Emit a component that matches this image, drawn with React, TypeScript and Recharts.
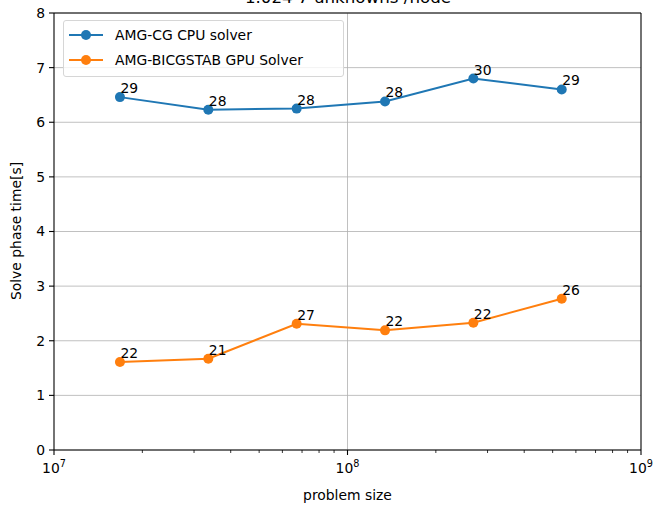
import React from 'react';
import { LineChart, Line, XAxis, YAxis, CartesianGrid, ReferenceLine, LabelList, Label } from 'recharts';

const FONT = '"DejaVu Sans", sans-serif';
const CPU_COLOR = '#1f77b4';
const GPU_COLOR = '#ff7f0e';

// problem sizes are 2^24 .. 2^29
const problemSizes = [16777216, 33554432, 67108864, 134217728, 268435456, 536870912];
const cpuTimes = [6.46, 6.23, 6.25, 6.38, 6.8, 6.6];
const gpuTimes = [1.61, 1.67, 2.31, 2.19, 2.33, 2.77];
const cpuIters = [29, 28, 28, 28, 30, 29];
const gpuIters = [22, 21, 27, 22, 22, 26];

const xTicks = [
  1e7, 2e7, 3e7, 4e7, 5e7, 6e7, 7e7, 8e7, 9e7,
  1e8, 2e8, 3e8, 4e8, 5e8, 6e8, 7e8, 8e8, 9e8,
  1e9,
];
const yTicks = [0, 1, 2, 3, 4, 5, 6, 7, 8];

const seriesNames = ['AMG-CG CPU solver', 'AMG-BICGSTAB GPU Solver'];

const data = problemSizes.map((size, i) => ({
  size,
  cpu: cpuTimes[i],
  gpu: gpuTimes[i],
  cpuIter: cpuIters[i],
  gpuIter: gpuIters[i],
}));

// log axis tick: long tick + 10^n label on decades, short tick otherwise
const LogTick = (props: any) => {
  const { x, y, payload } = props;
  const v = payload.value;
  const exp = Math.round(Math.log10(v));
  const major = Math.abs(Math.pow(10, exp) - v) < 1;
  return (
    <g>
      <line x1={x} x2={x} y1={y} y2={y + (major ? 5 : 3)} stroke="#000" strokeWidth={major ? 1.1 : 0.8} />
      {major && (
        <text x={x} y={y + 23} textAnchor="middle" fontSize={13.9} fontFamily={FONT} fill="#000">
          10<tspan dy={-6} fontSize={9.7}>{exp}</tspan>
        </text>
      )}
    </g>
  );
};

const iterLabel = (props: any) => {
  const vb = props.viewBox || {};
  const x = props.x ?? vb.x;
  const y = props.y ?? vb.y;
  return (
    <text x={x + 0.5} y={y - 4} fontSize={13.9} fontFamily={FONT} fill="#000">
      {props.value}
    </text>
  );
};

const LegendBox = () => (
  <div
    style={{
      position: 'absolute',
      left: 63,
      top: 20,
      width: 281,
      height: 57,
      border: '1px solid #d6d6d6',
      borderRadius: 3,
      background: 'rgba(255,255,255,0.8)',
      boxSizing: 'border-box',
      fontFamily: FONT,
      fontSize: 13.9,
    }}
  >
    {[CPU_COLOR, GPU_COLOR].map((c, i) => (
      <div key={i} style={{ position: 'absolute', left: 4, top: 4 + i * 25, height: 20, display: 'flex', alignItems: 'center' }}>
        <svg width={36} height={20}>
          <line x1={1} x2={35} y1={10} y2={10} stroke={c} strokeWidth={2} />
          <circle cx={18} cy={10} r={5} fill={c} />
        </svg>
        <span style={{ marginLeft: 11, color: '#000', whiteSpace: 'nowrap' }}>{seriesNames[i]}</span>
      </div>
    ))}
  </div>
);

export default function App() {
  return (
    <div style={{ position: 'absolute', left: 0, top: 0, width: 657, height: 505, background: '#fff', overflow: 'hidden' }}>
      <div
        style={{
          position: 'absolute',
          left: 0,
          width: 696,
          top: -13,
          textAlign: 'center',
          fontFamily: FONT,
          fontSize: 16.7,
          lineHeight: '20px',
          color: '#000',
        }}
      >
        1.024 7 unknowns /node
      </div>
      <LineChart width={657} height={505} data={data} margin={{ top: 13, right: 16, left: 0, bottom: 0 }}>
        <CartesianGrid vertical={false} stroke="#b0b0b0" strokeWidth={0.8} />
        <ReferenceLine x={1e8} stroke="#b0b0b0" strokeWidth={0.8} />
        <ReferenceLine y={8} stroke="#000" strokeWidth={1.1} />
        <ReferenceLine x={1e9} stroke="#000" strokeWidth={1.1} />
        <XAxis
          dataKey="size"
          type="number"
          scale="log"
          domain={[1e7, 1e9]}
          allowDataOverflow
          ticks={xTicks}
          interval={0}
          tick={<LogTick />}
          tickLine={false}
          tickSize={0}
          tickMargin={0}
          height={55}
          axisLine={{ stroke: '#000', strokeWidth: 1.1 }}
        >
          <Label value="problem size" position="insideBottom" offset={5} fontSize={13.9} fontFamily={FONT} fill="#000" />
        </XAxis>
        <YAxis
          type="number"
          domain={[0, 8]}
          ticks={yTicks}
          interval={0}
          width={54}
          tickSize={5}
          tickMargin={4}
          tick={{ fontSize: 13.9, fontFamily: FONT, fill: '#000' }}
          tickLine={{ stroke: '#000', strokeWidth: 1.1 }}
          axisLine={{ stroke: '#000', strokeWidth: 1.1 }}
        >
          <Label
            content={() => (
              <text transform="translate(21, 231) rotate(-90)" textAnchor="middle" fontSize={13.9} fontFamily={FONT} fill="#000">
                Solve phase time[s]
              </text>
            )}
          />
        </YAxis>
        <Line
          dataKey="cpu"
          name={seriesNames[0]}
          stroke={CPU_COLOR}
          strokeWidth={2}
          dot={{ r: 5, fill: CPU_COLOR, stroke: CPU_COLOR, strokeWidth: 0 }}
          isAnimationActive={false}
        >
          <LabelList dataKey="cpuIter" content={iterLabel} />
        </Line>
        <Line
          dataKey="gpu"
          name={seriesNames[1]}
          stroke={GPU_COLOR}
          strokeWidth={2}
          dot={{ r: 5, fill: GPU_COLOR, stroke: GPU_COLOR, strokeWidth: 0 }}
          isAnimationActive={false}
        >
          <LabelList dataKey="gpuIter" content={iterLabel} />
        </Line>
      </LineChart>
      <LegendBox />
    </div>
  );
}
